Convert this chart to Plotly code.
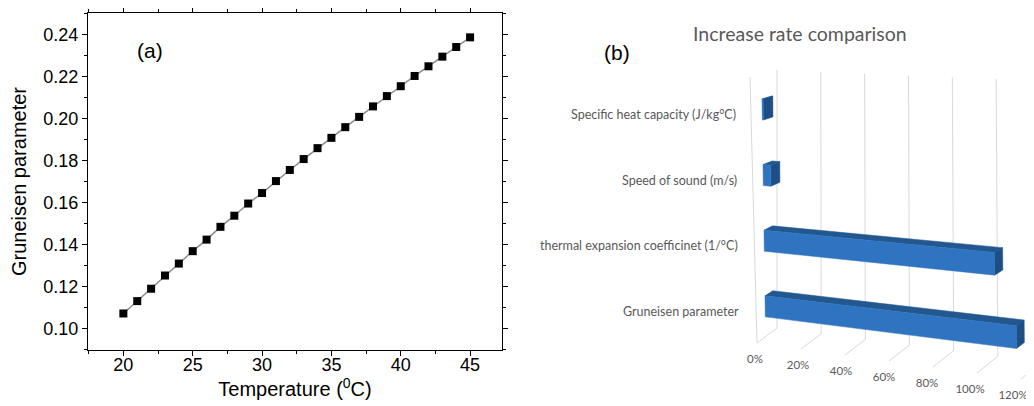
import plotly.graph_objects as go

# ---------------- data ----------------
temperature = list(range(20, 46))
gruneisen = [0.1071, 0.1130, 0.1189, 0.1252, 0.1309, 0.1368, 0.1423, 0.1484,
             0.1537, 0.1595, 0.1645, 0.1702, 0.1755, 0.1807, 0.1859, 0.1908,
             0.1959, 0.2008, 0.2058, 0.2107, 0.2154, 0.2203, 0.2249, 0.2295,
             0.2341, 0.2387]

categories = ["Gruneisen parameter",
              "thermal expansion coefficinet (1/°C)",
              "Speed of sound (m/s)",
              "Specific heat capacity (J/kg°C)"]
increase_rate = [1.14, 1.045, 0.035, 0.005]
rate_ticks = [0.0, 0.2, 0.4, 0.6, 0.8, 1.0, 1.2]
rate_tick_labels = ["0%", "20%", "40%", "60%", "80%", "100%", "120%"]

# ---------------- page geometry ----------------
PW, PH = 1034, 406          # browser window
OFF = 8                     # default body margin of the page
W, H = PW - OFF, PH - OFF   # figure size


def paper_x(px):
    return (px - OFF) / W


def paper_y(py):
    return 1 - (py - OFF) / H


# ---------------- styles ----------------
FRONT = "#2e74c0"
TOP = "#22588f"
END = "#1d4e85"
GRID = "#d9d9d9"
TXT = "#595959"
RFONT = "Lato"

fig = go.Figure()

# ---------------- panel (a) ----------------
fig.add_trace(go.Scatter(
    x=temperature, y=gruneisen, mode="lines+markers",
    line=dict(color="#8c8c8c", width=1.5),
    marker=dict(symbol="square", size=8, color="black"),
    xaxis="x", yaxis="y", showlegend=False, hoverinfo="skip"))

# ---------------- panel (b): pseudo 3D bar chart ----------------
VMAX = rate_ticks[-1]
# page positions of the 8 corners of the chart box (value, height, depth)
CORNERS = {
    (0, 0, 0): (757, 343), (1, 0, 0): (1021, 379),
    (0, 0, 1): (777, 328), (1, 0, 1): (1042, 362),
    (0, 1, 0): (750, 77), (1, 1, 0): (1016, 89),
    (0, 1, 1): (777, 70), (1, 1, 1): (1040, 81),
}


def proj(v, h, d):
    a = v / VMAX
    x = y = 0.0
    for i in (0, 1):
        wi = a if i else 1 - a
        for j in (0, 1):
            wj = h if j else 1 - h
            for k in (0, 1):
                wk = d if k else 1 - d
                cx, cy = CORNERS[(i, j, k)]
                w = wi * wj * wk
                x += w * cx
                y += w * cy
    return x, y


def add_line(pts, color=GRID, width=1):
    xs = [p[0] for p in pts]
    ys = [p[1] for p in pts]
    fig.add_trace(go.Scatter(x=xs, y=ys, mode="lines", line=dict(color=color, width=width),
                             xaxis="x2", yaxis="y2", showlegend=False, hoverinfo="skip"))


def add_face(pts, color):
    xs = [p[0] for p in pts] + [pts[0][0]]
    ys = [p[1] for p in pts] + [pts[0][1]]
    fig.add_trace(go.Scatter(x=xs, y=ys, mode="lines", fill="toself", fillcolor=color,
                             line=dict(color=color, width=0.5),
                             xaxis="x2", yaxis="y2", showlegend=False, hoverinfo="skip"))


# back wall gridlines
for t in rate_ticks:
    add_line([proj(t, 0, 1), proj(t, 1, 1)])
# floor gridlines
for t in rate_ticks:
    add_line([proj(t, 0, 0), proj(t, 0, 1)])
# side wall front edge
add_line([proj(0, 0, 0), proj(0, 1, 0)])

D0, D1 = 0.43, 0.8
HALF = 0.04
for i, (cat, val) in enumerate(zip(categories, increase_rate)):
    c = (i + 0.46) / len(categories)
    h0, h1 = c - HALF, c + HALF
    add_face([proj(0, h1, D0), proj(val, h1, D0), proj(val, h1, D1), proj(0, h1, D1)], TOP)
    add_face([proj(val, h0, D0), proj(val, h1, D0), proj(val, h1, D1), proj(val, h0, D1)], END)
    add_face([proj(0, h0, D0), proj(val, h0, D0), proj(val, h1, D0), proj(0, h1, D0)], FRONT)
    lx, ly = proj(0, c, D0)
    fig.add_annotation(x=lx - 24, y=ly + 5, xref="x2", yref="y2", text=cat,
                       showarrow=False, xanchor="right", yanchor="middle",
                       font=dict(family=RFONT, size=12.5, color=TXT))

# value tick labels along the front edge
tx, ty = [], []
for t in rate_ticks:
    px, py = proj(t, 0, 0)
    tx.append(px - 2 - 5 * t)
    ty.append(py + 17)
fig.add_trace(go.Scatter(x=tx, y=ty, mode="text", text=rate_tick_labels,
                         textposition="middle center", cliponaxis=False,
                         textfont=dict(family=RFONT, size=11.5, color=TXT),
                         xaxis="x2", yaxis="y2", showlegend=False, hoverinfo="skip"))

# ---------------- layout ----------------
axis_common = dict(showline=True, linecolor="black", linewidth=1.3, mirror="allticks",
                   ticks="outside", ticklen=5, tickwidth=1.3, tickcolor="black",
                   showgrid=False, zeroline=False,
                   tickfont=dict(family="Arial", size=18, color="black"))

fig.update_layout(
    width=W, height=H,
    margin=dict(l=0, r=0, t=0, b=0),
    paper_bgcolor="white", plot_bgcolor="white",
    xaxis=dict(domain=[paper_x(88), paper_x(502)], range=[17.45, 47.3], tick0=20, dtick=5,
               minor=dict(dtick=2.5, ticklen=3, tickcolor="black", ticks="outside"),
               ticklabelstandoff=-7,
               title=dict(text="Temperature (<sup>0</sup>C)", standoff=0,
                          font=dict(family="Arial", size=20, color="black")),
               anchor="y", **axis_common),
    yaxis=dict(domain=[paper_y(350), paper_y(13)], range=[0.0897, 0.2503],
               tick0=0.1, dtick=0.02, tickformat=".2f",
               minor=dict(dtick=0.01, ticklen=3, tickcolor="black", ticks="outside"),
               title=dict(text="Gruneisen parameter", standoff=11,
                          font=dict(family="Arial", size=20, color="black")),
               anchor="x", **axis_common),
    xaxis2=dict(domain=[paper_x(520), 1.0], range=[520, PW], visible=False, anchor="y2"),
    yaxis2=dict(domain=[0.0, 1.0], range=[PH, OFF], visible=False, anchor="x2"),
)

fig.add_annotation(x=paper_x(150), y=paper_y(50), xref="paper", yref="paper",
                   text="(a)", showarrow=False, xanchor="center", yanchor="middle",
                   font=dict(family="Arial", size=21, color="black"))
fig.add_annotation(x=paper_x(617), y=paper_y(52), xref="paper", yref="paper", text="(b)",
                   showarrow=False, xanchor="center", yanchor="middle",
                   font=dict(family="Arial", size=21, color="black"))
fig.add_annotation(x=paper_x(800), y=paper_y(34), xref="paper", yref="paper",
                   text="Increase rate comparison", showarrow=False,
                   xanchor="center", yanchor="middle",
                   font=dict(family=RFONT, size=19.5, color=TXT))

fig.write_html("out.html")
